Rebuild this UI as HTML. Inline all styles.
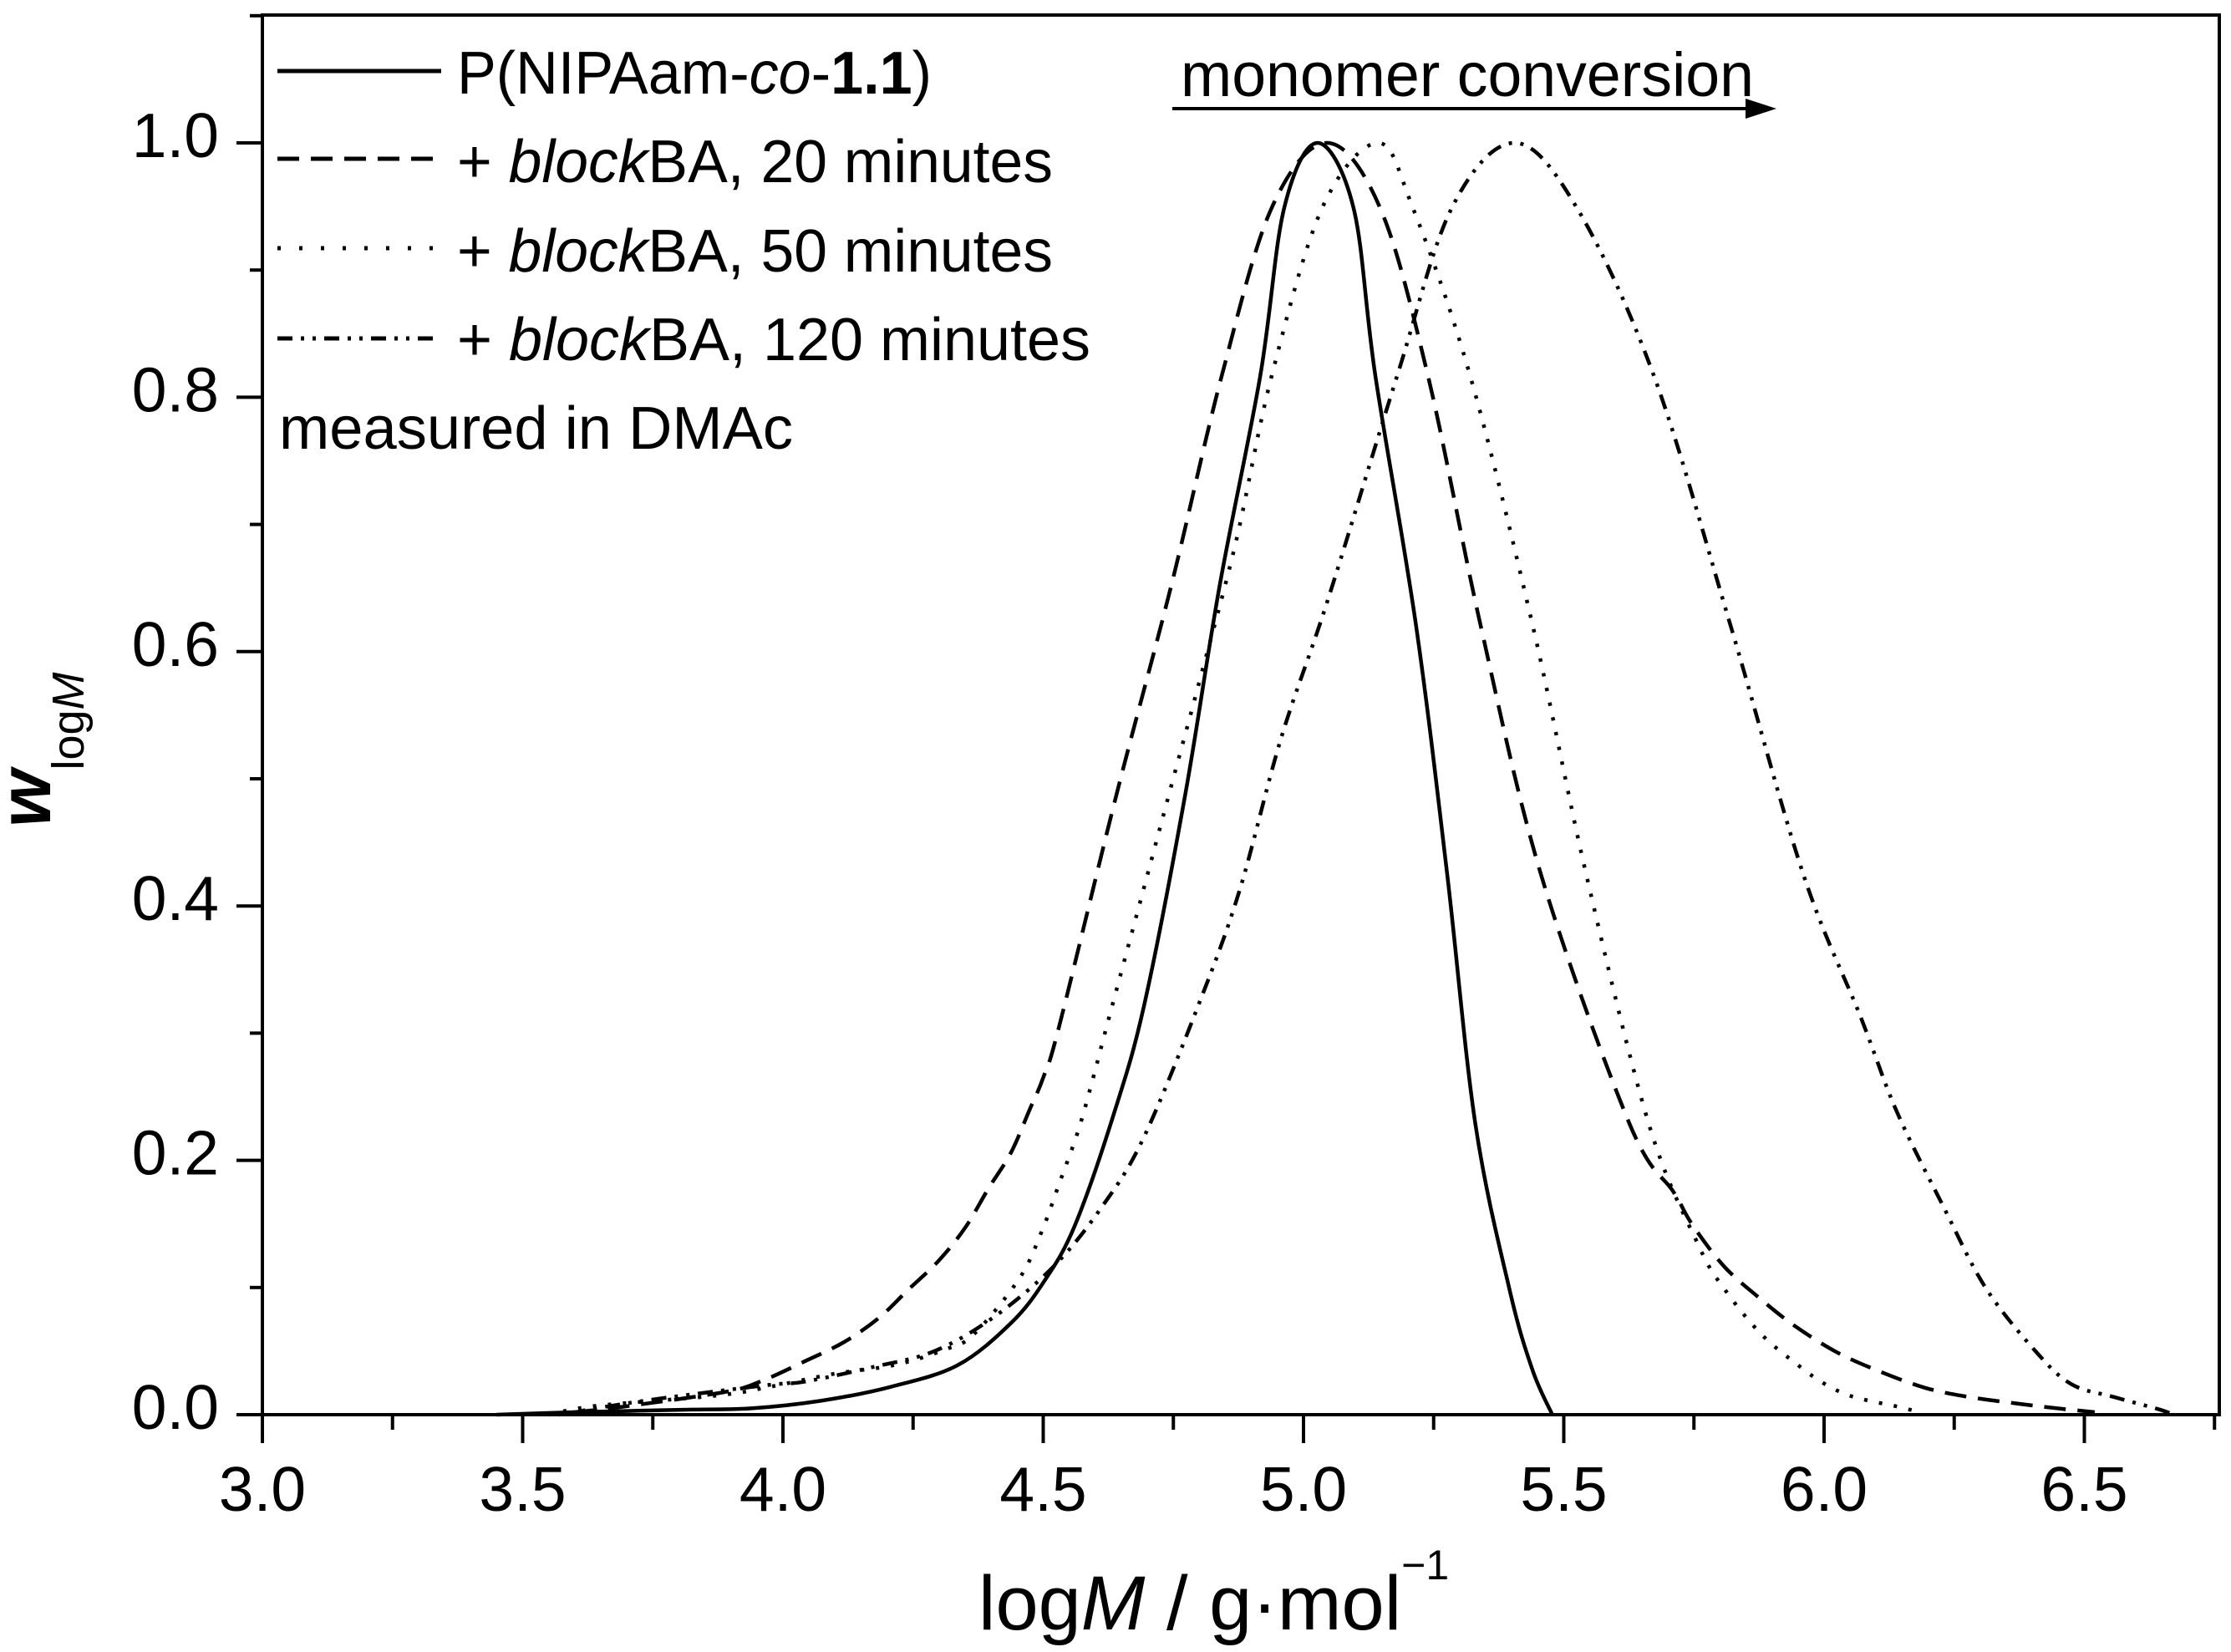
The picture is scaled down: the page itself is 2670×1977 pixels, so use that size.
<!DOCTYPE html>
<html><head><meta charset="utf-8"><style>
html,body{margin:0;padding:0;background:#fff;}
svg{display:block;font-family:"Liberation Sans",sans-serif;}
</style></head><body>
<svg id="chart" width="2670" height="1977" viewBox="0 0 2670 1977">
<g id="axes"></g>
<g id="series"></g>
<g id="legend"></g>
</svg>
<script>
const xTicks=[3.0,3.5,4.0,4.5,5.0,5.5,6.0,6.5];
const xTickLabels=["3.0","3.5","4.0","4.5","5.0","5.5","6.0","6.5"];
const yTicks=[0,0.2,0.4,0.6,0.8,1.0];
const yTickLabels=["0.0","0.2","0.4","0.6","0.8","1.0"];
const solidX=[3.45,3.6,3.826,3.94,4.074,4.208,4.336,4.438,4.502,4.561,4.636,4.695,4.773,4.839,4.917,4.963,5.027,5.096,5.138,5.216,5.276,5.33,5.396,5.44,5.478];
const solidY=[0,0.002,0.004,0.005,0.011,0.022,0.039,0.072,0.105,0.149,0.237,0.324,0.488,0.652,0.817,0.949,1.0,0.949,0.817,0.621,0.425,0.229,0.098,0.035,0];
const min20X=[3.6,3.688,3.89,3.962,4.042,4.117,4.184,4.24,4.299,4.35,4.395,4.438,4.473,4.5,4.531,4.641,4.746,4.843,4.939,5.045,5.147,5.239,5.34,5.456,5.626,5.711,5.746,5.807,5.875,5.943,6.025,6.107,6.195,6.277,6.366,6.448,6.52];
const min20Y=[0.002,0.006,0.018,0.027,0.042,0.057,0.076,0.098,0.121,0.147,0.178,0.206,0.239,0.265,0.306,0.488,0.652,0.817,0.949,1.0,0.949,0.817,0.621,0.425,0.229,0.175,0.15,0.117,0.092,0.07,0.049,0.034,0.021,0.014,0.009,0.005,0.002];
const min50X=[3.55,3.642,3.872,3.976,4.096,4.214,4.31,4.366,4.454,4.497,4.531,4.567,4.596,4.623,4.692,4.747,4.801,4.87,4.939,5.036,5.143,5.21,5.32,5.44,5.543,5.663,5.759,5.81,5.88,5.953,5.998,6.042,6.086,6.134,6.184];
const min50Y=[0,0.007,0.015,0.022,0.032,0.039,0.051,0.063,0.107,0.144,0.182,0.223,0.265,0.307,0.412,0.496,0.578,0.686,0.817,0.949,1.0,0.949,0.817,0.621,0.425,0.229,0.133,0.098,0.063,0.038,0.025,0.016,0.011,0.007,0.002];
const min120X=[3.57,3.734,3.964,4.042,4.168,4.291,4.406,4.521,4.612,4.692,4.8,4.877,4.957,5.047,5.18,5.285,5.405,5.525,5.673,5.82,5.96,6.07,6.14,6.23,6.31,6.406,6.475,6.556,6.645,6.67];
const min120Y=[0,0.011,0.023,0.026,0.037,0.05,0.077,0.117,0.163,0.217,0.324,0.412,0.532,0.641,0.817,0.949,1.0,0.949,0.817,0.621,0.425,0.313,0.238,0.163,0.1,0.05,0.024,0.014,0.004,0];

const NS="http://www.w3.org/2000/svg";
const L=314,R=2656,T=18,B=1693;
const xMin=3.0,xPer=623,yPer=1522;
function sx(v){return L+(v-xMin)*xPer;}
function sy(v){return B-v*yPer;}
function mk(tag,attrs,parent,text){const e=document.createElementNS(NS,tag);for(const k in attrs)e.setAttribute(k,attrs[k]);if(text!==undefined)e.textContent=text;parent.appendChild(e);return e;}
const axes=document.getElementById('axes');
const frame=mk('rect',{x:L,y:T,width:R-L,height:B-T,fill:'none',stroke:'#000','stroke-width':4},axes);


for(let i=0;i<=15;i++){const v=3.0+i*0.25;const major=i%2===0;
 const t=mk('line',{x1:sx(v),x2:sx(v),y1:B,y2:B+(major?34:18),stroke:'#000','stroke-width':4},axes);
 
 }
for(let i=0;i<=11;i++){const v=i*0.1;const major=i%2===0;
 const t=mk('line',{x1:L,x2:L-(major?31:15),y1:sy(v),y2:sy(v),stroke:'#000','stroke-width':4},axes);
 
 }
xTicks.forEach((v,i)=>{const t=mk('text',{x:sx(v),y:1808,'font-size':75,'text-anchor':'middle'},axes,xTickLabels[i]);
 
 });
yTicks.forEach((v,i)=>{const t=mk('text',{x:262,y:sy(v)+17,'font-size':75,'text-anchor':'end'},axes,yTickLabels[i]);
 
 });
const xt=mk('text',{x:1171,y:1950,'font-size':92},axes);


xt.innerHTML='log<tspan font-style="italic">M</tspan> / g·mol<tspan dy="-60" font-size="50">−1</tspan>';
const yt=mk('text',{transform:'translate(60,990) rotate(-90)','font-size':88},axes);


yt.innerHTML='<tspan font-style="italic" font-weight="bold">w</tspan><tspan dy="40" font-size="54">log<tspan font-style="italic">M</tspan></tspan>';

function pathFrom(xs,ys){const p=xs.map((x,i)=>[sx(x),sy(ys[i])]);let d='M'+p[0][0]+','+p[0][1];
 for(let i=0;i<p.length-1;i++){const p0=p[Math.max(0,i-1)],p1=p[i],p2=p[i+1],p3=p[Math.min(p.length-1,i+2)];
  const c1=[p1[0]+(p2[0]-p0[0])/6,p1[1]+(p2[1]-p0[1])/6],c2=[p2[0]-(p3[0]-p1[0])/6,p2[1]-(p3[1]-p1[1])/6];
  d+=' C'+c1[0]+','+c1[1]+' '+c2[0]+','+c2[1]+' '+p2[0]+','+p2[1];}return d;}
const ser=document.getElementById('series');
const styles=[
 {xs:solidX,ys:solidY,dash:'none',name:'series-p-nipaam'},
 {xs:min20X,ys:min20Y,dash:'26,14',name:'series-20-minutes'},
 {xs:min50X,ys:min50Y,dash:'4,14',name:'series-50-minutes'},
 {xs:min120X,ys:min120Y,dash:'18,10,4,10,4,10',name:'series-120-minutes'}];
styles.forEach(s=>{const p=mk('path',{d:pathFrom(s.xs,s.ys),fill:'none',stroke:'#000','stroke-width':4.5,'stroke-dasharray':s.dash},ser);
 
 });

const lg=document.getElementById('legend');
const labels=['P(NIPAam-<tspan font-style="italic">co</tspan>-<tspan font-weight="bold">1.1</tspan>)',
 '+ <tspan font-style="italic">block</tspan>BA, 20 minutes',
 '+ <tspan font-style="italic">block</tspan>BA, 50 minutes',
 '+ <tspan font-style="italic">block</tspan>BA, 120 minutes'];
const lineY=[85,190,297,405];
const textY=[112,218,325,431];
const textW=[568,713,713,758];
styles.forEach((s,i)=>{const l=mk('line',{x1:332,x2:528,y1:lineY[i],y2:lineY[i],stroke:'#000','stroke-width':5,'stroke-dasharray':s.dash==='4,14'?'4,22':s.dash},lg);
 
 
 const t=mk('text',{x:547,y:textY[i],'font-size':72,textLength:textW[i],lengthAdjust:'spacingAndGlyphs'},lg);
 
 
 t.innerHTML=labels[i];});
const note=mk('text',{x:334,y:537,'font-size':72,textLength:615,lengthAdjust:'spacingAndGlyphs'},lg,'measured in DMAc');


const mc=mk('text',{x:1413,y:115,'font-size':74,textLength:686,lengthAdjust:'spacingAndGlyphs'},lg,'monomer conversion');


const ar=mk('line',{x1:1403,x2:2095,y1:130,y2:130,stroke:'#000','stroke-width':4},lg);


const ah=mk('polygon',{points:'2089,118 2126,130 2089,142',fill:'#000'},lg);


</script>
</body></html>
